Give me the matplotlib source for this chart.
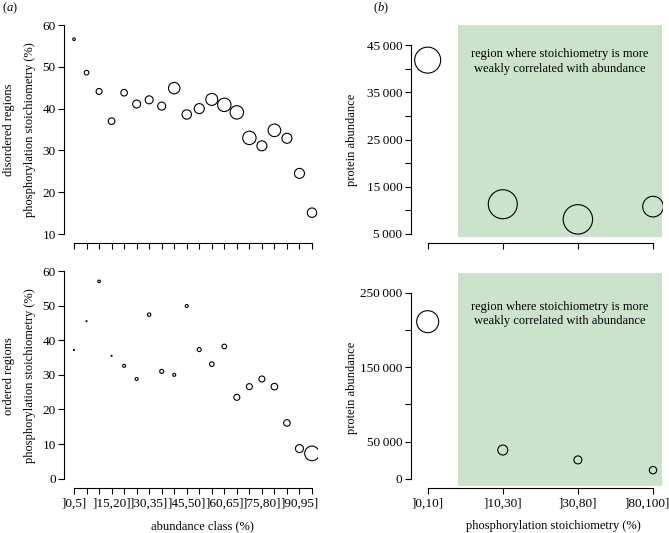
import matplotlib
matplotlib.use("Agg")
import matplotlib.pyplot as plt
from matplotlib.patches import Rectangle
from matplotlib.transforms import ScaledTranslation

plt.rcParams['font.family'] = ['Liberation Serif', 'DejaVu Serif']
plt.rcParams['mathtext.fontset'] = 'custom'
plt.rcParams['mathtext.rm'] = 'Liberation Serif'
plt.rcParams['mathtext.it'] = 'Liberation Serif:italic'
plt.rcParams['font.size'] = 9

# abundance classes ]0,5] ... ]95,100]
classes = [f"]{i*5},{i*5+5}]" for i in range(20)]

# disordered regions: stoichiometry (%) and bubble weight
dis_stoich = [56.6, 48.6, 44.1, 37.0, 43.8, 41.1, 42.1, 40.6, 44.9, 38.6,
              40.0, 42.2, 40.9, 39.1, 33.0, 31.1, 34.8, 32.9, 24.5, 15.1]
dis_weight = [1.3, 2.3, 3.0, 3.3, 3.3, 4.0, 4.0, 4.0, 5.7, 4.7,
              5.0, 6.0, 6.7, 6.7, 6.7, 5.0, 6.3, 5.0, 5.0, 4.7]

# ordered regions
ord_stoich = [37.2, 45.5, 57.0, 35.5, 32.6, 28.8, 47.4, 31.0, 30.0, 49.9,
              37.3, 33.1, 38.2, 23.5, 26.6, 28.8, 26.6, 16.1, 8.7, 7.3]
ord_weight = [0.5, 0.5, 1.3, 0.5, 1.5, 1.5, 1.7, 2.0, 1.5, 1.5,
              2.0, 2.3, 2.3, 3.0, 3.0, 3.0, 3.3, 3.3, 4.0, 7.3]

# panel b
stoich_classes = [']0,10]', ']10,30]', ']30,80]', ']80,100]']
dis_abund = [41800, 11300, 8100, 10800]
dis_abund_w = [13.0, 14.5, 14.7, 10.3]
ord_abund = [211400, 38600, 25300, 11500]
ord_abund_w = [11.0, 5.0, 4.0, 3.7]

W, H = 669, 533
fig = plt.figure(figsize=(W / 100, H / 100), dpi=100)
TICK_FS = 9.5
LAB_FS = 9


def px_axes(left, right, top, bottom):
    return fig.add_axes([left / W, 1 - bottom / H, (right - left) / W, (bottom - top) / H])


def ftext(x, y, s, **kw):
    return fig.text(x / W, 1 - y / H, s, ha='center', va='center', fontsize=LAB_FS, **kw)


def style(ax, xb, yb):
    for s in ['top', 'right']:
        ax.spines[s].set_visible(False)
    ax.spines['left'].set_bounds(*yb)
    ax.spines['bottom'].set_bounds(*xb)
    for s in ['left', 'bottom']:
        ax.spines[s].set_linewidth(0.8)
    ax.tick_params(direction='out', length=4, width=0.8, labelsize=TICK_FS, pad=2)


def bubbles(ax, x, y, w):
    s = [(2 * r * 0.72) ** 2 for r in w]
    ax.scatter(x, y, s=s, facecolors='none', edgecolors='black', linewidths=0.8, zorder=3)


xs20 = list(range(1, 21))
xs4 = list(range(1, 5))

# (a) top
ax1 = px_axes(64, 318, 22, 242.7)
bubbles(ax1, xs20, dis_stoich, dis_weight)
ax1.set_xlim(0.2, 20.48)
ax1.set_ylim(7.92, 60.72)
ax1.set_yticks([10, 20, 30, 40, 50, 60])
ax1.set_xticks(xs20)
ax1.set_xticklabels([])
style(ax1, (1, 20), (10, 60))
ftext(9, 130, 'disordered regions', rotation=90)
ftext(30, 130, 'phosphorylation stoichiometry (%)', rotation=90)

# (a) bottom
ax2 = px_axes(64, 318, 268, 488)
bubbles(ax2, xs20, ord_stoich, ord_weight)
ax2.set_xlim(0.2, 20.48)
ax2.set_ylim(-2.69, 60.87)
ax2.set_yticks([0, 10, 20, 30, 40, 50, 60])
ax2.set_xticks(xs20)
ax2.set_xticklabels([c if i % 3 == 0 else '' for i, c in enumerate(classes)])
style(ax2, (1, 20), (0, 60))
ax2.tick_params(axis='x', pad=3)
ftext(9, 376, 'ordered regions', rotation=90)
ftext(30, 376, 'phosphorylation stoichiometry (%)', rotation=90)
ftext(202, 526, 'abundance class (%)')

region_txt = 'region where stoichiometry is more\nweakly correlated with abundance'

# (b) top
ax3 = px_axes(410.7, 663, 22, 242.5)
ax3.add_patch(Rectangle((1.407, 4302), 4.124 - 1.407, 49233 - 4302,
                        facecolor='#cce3cb', edgecolor='none', zorder=0))
bubbles(ax3, xs4, dis_abund, dis_abund_w)
ax3.set_xlim(0.774, 4.133)
ax3.set_ylim(3201, 49868)
ax3.set_yticks(range(5000, 45001, 5000))
ax3.set_yticklabels([f"{v // 1000}\u2009000" if v % 10000 == 5000 else '' for v in range(5000, 45001, 5000)])
ax3.set_xticks(xs4)
ax3.set_xticklabels([])
style(ax3, (1, 4), (5000, 45000))
ftext(560, 61.5, region_txt, linespacing=1.3)
ftext(352, 140, 'protein abundance', rotation=90)

# (b) bottom
ax4 = px_axes(410.7, 663, 268, 488)
ax4.add_patch(Rectangle((1.407, -9420), 4.124 - 1.407, 276900 + 9420,
                        facecolor='#cce3cb', edgecolor='none', zorder=0))
bubbles(ax4, xs4, ord_abund, ord_abund_w)
ax4.set_xlim(0.774, 4.133)
ax4.set_ylim(-12520, 283650)
yt = list(range(0, 250001, 50000))
ax4.set_yticks(yt)
ax4.set_yticklabels(['0', '50\u2009000', '', '150\u2009000', '', '250\u2009000'])
ax4.set_xticks(xs4)
ax4.set_xticklabels(stoich_classes)
style(ax4, (1, 4), (0, 250000))
ax4.tick_params(axis='x', pad=3)
# keep the last label inside the figure edge
last = ax4.get_xticklabels()[-1]
last.set_transform(last.get_transform() + ScaledTranslation(-6 / 100, 0, fig.dpi_scale_trans))
ftext(560, 314, region_txt, linespacing=1.3)
ftext(352, 388, 'protein abundance', rotation=90)
ftext(553, 526, 'phosphorylation stoichiometry (%)')

fig.text(2 / W, 1 - 8 / H, r'($\it{a}$)', ha='left', va='center', fontsize=LAB_FS)
fig.text(373 / W, 1 - 8 / H, r'($\it{b}$)', ha='left', va='center', fontsize=LAB_FS)

fig.savefig('out.png', dpi=100)
